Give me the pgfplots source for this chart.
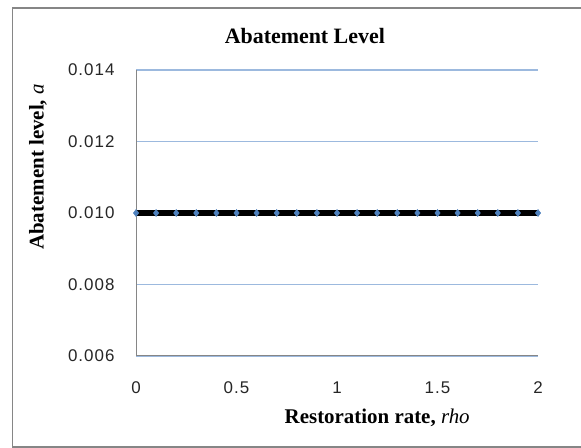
\documentclass[border=0pt]{standalone}
\usepackage{pgfplots}
\pgfplotsset{compat=1.18}
\usepackage{fontspec}
\setmainfont{Liberation Serif}
\newfontfamily\tickfont[LetterSpace=6]{Liberation Sans}
\definecolor{gridblue}{RGB}{156,185,222}
\definecolor{axgray}{RGB}{134,134,134}
\definecolor{mkblue}{RGB}{79,129,189}
\begin{document}
\begin{tikzpicture}[x=1bp,y=1bp]
\useasboundingbox[fill=white] (0,0) rectangle (581,448);
\draw[axgray, line width=1.5bp] (620,440) -- (12.5,440) -- (12.5,1) -- (620,1);
\begin{axis}[
  at={(136bp,92bp)}, anchor=south west,
  width=402bp, height=286bp, scale only axis,
  xmin=0, xmax=2, ymin=0.006, ymax=0.014,
  xtick={0,0.5,1,1.5,2},
  ytick={0.006,0.008,0.010,0.012,0.014},
  axis x line*=bottom, axis y line*=left,
  axis line style={-, axgray, line width=1bp},
  major tick length=0pt,
  ymajorgrids, grid style={gridblue, line width=1.1bp},
  ticklabel style={font=\tickfont\fontsize{17}{17}\selectfont, text=black!85},
  /pgf/number format/assume math mode=true,
  yticklabel style={xshift=-18bp, /pgf/number format/.cd, fixed, fixed zerofill, precision=3},
  xticklabel style={yshift=-22bp, /pgf/number format/.cd, fixed, precision=1},
  scaled y ticks=false,
  title={\textbf{Abatement Level}},
  title style={at={(0.42,1.098)}, anchor=center, font=\fontsize{22}{22}\selectfont},
  xlabel={\textbf{Restoration rate,} \textit{rho}},
  xlabel style={at={(0.60,-0.217)}, anchor=center, font=\fontsize{21}{21}\selectfont},
  ylabel={\textbf{Abatement level,} \textit{a}},
  ylabel style={at={(-0.244,0.661)}, anchor=center, font=\fontsize{21}{21}\selectfont},
  clip=false,
]
\addplot[black, line width=5.5bp, mark=diamond*, mark size=3.5bp,
  mark options={fill=mkblue, draw=mkblue, line width=0.5bp}] coordinates {
(0,0.01) (0.1,0.01) (0.2,0.01) (0.3,0.01) (0.4,0.01) (0.5,0.01) (0.6,0.01)
(0.7,0.01) (0.8,0.01) (0.9,0.01) (1.0,0.01) (1.1,0.01) (1.2,0.01) (1.3,0.01)
(1.4,0.01) (1.5,0.01) (1.6,0.01) (1.7,0.01) (1.8,0.01) (1.9,0.01) (2.0,0.01)
};
\end{axis}
\end{tikzpicture}
\end{document}
